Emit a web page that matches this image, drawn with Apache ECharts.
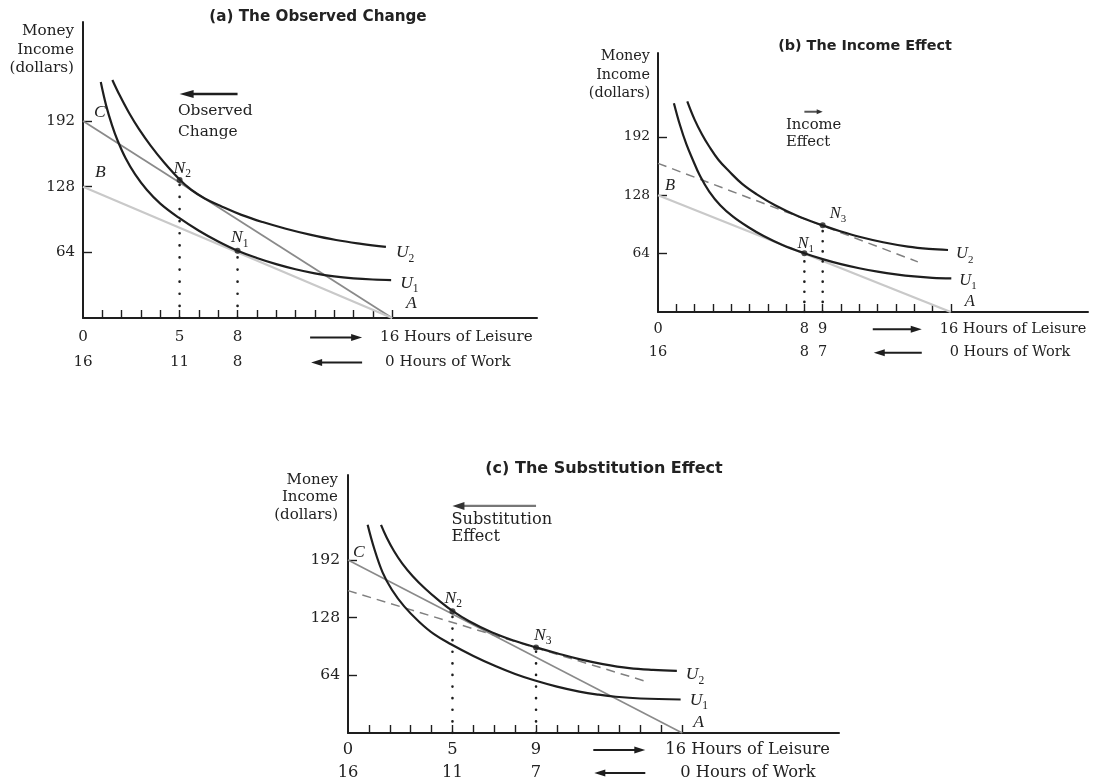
<!DOCTYPE html>
<html><head><meta charset="utf-8">
<script src="https://cdn.jsdelivr.net/npm/echarts@6/dist/echarts.min.js"></script>
<style>html,body{margin:0;padding:0;background:#fff}#c{width:1093px;height:783px}</style>
</head><body><div id="c"></div>
<script>
// ---------------- data ----------------
const panelTitles = ['(a) The Observed Change', '(b) The Income Effect', '(c) The Substitution Effect'];
const hourTicks = [1,2,3,4,5,6,7,8,9,10,11,12,13,14,15,16];
const incomeTicks = [64,128,192];
const leisureA = [0,5,8];   const workA = [16,11,8];
const leisureB = [0,8,9];   const workB = [16,8,7];
const leisureC = [0,5,9];   const workC = [16,11,7];

// panel (a)
const budgetB_a = [[0,128],[16,0]];
const budgetC_a = [[0,192],[16,0]];
const U1_a = [[0.92,230],[1.2,207],[1.5,188],[1.78,173.5],[2.2,156],[2.7,140],[3.3,125],[4,111.5],[4.94,98],[6,85],[7,74.5],[8,65.5],[9,58.5],[10,52.5],[11,47.5],[12,43.5],[13,40.5],[14,38.6],[15,37.5],[15.95,37]];
const U2_a = [[1.52,232],[1.9,217],[2.38,200],[2.9,184],[3.5,168],[4.2,151.5],[5,135],[5.6,125],[6.3,116.5],[7.2,108.5],[8.2,100.5],[9.3,93.5],[10.5,87],[11.8,81],[13.1,76],[14.4,72.3],[15.68,69.3]];
const points_a = [{name:'N2', value:[5,134.5]}, {name:'N1', value:[8,65.5]}];
const observedChange = [8,5];

// panel (b)
const budgetB_b = [[0,128],[16,0]];
const dashed_b = [[0,163],[14.2,55]];
const U1_b = [[0.87,229],[1.2,205],[1.55,184],[1.9,167],[2.3,149],[2.8,132],[3.4,117],[4.1,104.5],[4.9,93.5],[5.8,83],[6.8,73.5],[8,64.5],[9,58],[10,52.5],[11,48],[12,44.3],[13,41.3],[14,39],[15,37.5],[16.03,36.8]];
const U2_b = [[1.6,231],[2,211],[2.4,195],[2.8,181.5],[3.3,167],[3.9,154],[4.6,140.5],[5.4,129],[6.4,117],[7.6,105.5],[9,95],[10,88.3],[11,82.5],[12.3,76.5],[13.66,71.7],[14.8,69.2],[15.85,68]];
const points_b = [{name:'N1', value:[8,64.5]}, {name:'N3', value:[9,95]}];
const incomeEffect = [8,9];

// panel (c)
const budgetC_c = [[0,192],[16,0]];
const dashed_c = [[0,158],[14.3,57]];
const U1_c = [[0.94,231],[1.25,205],[1.66,178],[2.1,159],[2.69,140.5],[3.4,123.5],[4.1,110],[4.93,98.5],[6,85.5],[7.08,74],[8,65.5],[8.91,58.5],[10,51.5],[11.07,46],[12,42.5],[12.82,40.2],[14,38.3],[15.92,37.2]];
const U2_c = [[1.58,231],[1.85,217],[2.2,202],[2.6,188],[3.1,174],[3.7,160],[4.3,148],[5,135.5],[5.8,124],[6.9,111.5],[8,102],[9,95],[10,88.5],[11.07,82],[12.2,76.5],[13.46,72],[14.6,70],[15.74,69]];
const points_c = [{name:'N2', value:[5,135]}, {name:'N3', value:[9,95]}];
const substitutionEffect = [9,5];

// ---------------- layout / style ----------------
const SERIF = 'DejaVu Serif';
const ITAL = 'Liberation Serif';
const INK = '#1e1e1e';
const layout = [
  {grid:{left:83, top:22, width:454, height:296}, xMax:23.5, yMax:288.5,
   fs:15.1, yfs:15, nfs:15.2, tfs:15.2, lfs:17.5, title:{x:318, y:16.7},
   lh:25, m:7, nameGap:0, namePad:9, nameLH:18.5, dot:12,
   leisure:leisureA, work:workA,
   row:{leis:-12, work:-7, a1:-82, a2:-30},
   ann:{hours:observedChange, v:218.3, text:'Observed\nChange', dx:-1.6, dy:6.2, lh:21, fs:15.4, color:INK, head:INK, w:2.4, hl:14, hw:8}},
  {grid:{left:658, top:53, width:430, height:259}, xMax:23.5, yMax:284,
   fs:14.5, yfs:13.8, nfs:14.4, tfs:14.4, lfs:16.5, title:{x:865, y:46.7},
   lh:23.4, m:5.6, nameGap:5.5, namePad:8, nameLH:18.3, dot:10,
   leisure:leisureB, work:workB,
   row:{leis:-11, work:-1, a1:-78, a2:-29},
   ann:{hours:incomeEffect, v:219.6, text:'Income\nEffect', dx:-18.4, dy:5, lh:16.7, fs:14.8, color:'#555', head:'#333', w:2, hl:6, hw:5}},
  {grid:{left:348, top:475, width:491, height:258}, xMax:23.5, yMax:286.3,
   fs:16.3, yfs:15.5, nfs:15, tfs:16, lfs:17.5, title:{x:604, y:469.3},
   lh:23, m:5.5, nameGap:3.7, namePad:10, nameLH:17.5, dot:11.5,
   leisure:leisureC, work:workC,
   row:{leis:-17, work:-2, a1:-89, a2:-37},
   ann:{hours:substitutionEffect, v:252, text:'Substitution\nEffect', dx:-1, dy:5.5, lh:17, fs:16.2, color:'#777', head:'#333', w:2.4, hl:12, hw:8}}
];

const panelSeries = [
  {budget:[{d:budgetC_a, lab:'C', c:'#8a8a8a', w:1.8}, {d:budgetB_a, lab:'B', c:'#c9c9c9', w:2.2}], dashed:null, U1:U1_a, U2:U2_a, pts:points_a},
  {budget:[{d:budgetB_b, lab:'B', c:'#c9c9c9', w:2.2}], dashed:dashed_b, U1:U1_b, U2:U2_b, pts:points_b},
  {budget:[{d:budgetC_c, lab:'C', c:'#8a8a8a', w:1.6}], dashed:dashed_c, U1:U1_c, U2:U2_c, pts:points_c}
];

// label offsets (pixels, relative to anchor point)
const labelOffsets = [
  {C:[11,-9], B:[12,-14], A:[14,-15], U2:[10,6], U1:[9,3.5], N2:[-6,-12], N1:[-6.6,-13]},
  {B:[7,-10], A:[14,-10], U2:[8,4], U1:[8,2], N1:[-7,-10], N3:[7,-12]},
  {C:[5,-8], A:[11,-11], U2:[9,4], U1:[9,1], N2:[-8,-13], N3:[-2,-12]}
];

// ---------------- option ----------------
const xAxes = [], yAxes = [], series = [];
layout.forEach((L, i) => {
  xAxes.push({type:'value', gridIndex:i, min:0, max:L.xMax,
    axisLine:{show:true, onZero:false, lineStyle:{color:INK, width:2}},
    axisTick:{show:true, inside:true, length:8, customValues:hourTicks, lineStyle:{color:INK, width:1.4}},
    axisLabel:{show:true, customValues:L.leisure, margin:L.m, color:'#222', fontFamily:SERIF, fontSize:L.fs, lineHeight:L.lh,
      formatter:(v) => v + '\n' + L.work[L.leisure.indexOf(v)]},
    splitLine:{show:false}});
  yAxes.push({type:'value', gridIndex:i, min:0, max:L.yMax,
    name:'Money\nIncome\n(dollars)', nameLocation:'end', nameGap:L.nameGap,
    nameTextStyle:{align:'right', verticalAlign:'top', fontFamily:SERIF, fontSize:L.nfs, lineHeight:L.nameLH, color:'#222', padding:[0, L.namePad, 0, 0]},
    axisLine:{show:true, onZero:false, lineStyle:{color:INK, width:2}},
    axisTick:{show:true, inside:true, length:9, customValues:incomeTicks, lineStyle:{color:INK, width:1.4}},
    axisLabel:{show:true, customValues:incomeTicks, margin:8, color:'#222', fontFamily:SERIF, fontSize:L.yfs},
    splitLine:{show:false}});

  const P = panelSeries[i];
  P.budget.forEach(b => series.push({type:'line', name:'budget '+b.lab, xAxisIndex:i, yAxisIndex:i, data:b.d, symbol:'none', silent:true, z:2,
    lineStyle:{color:b.c, width:b.w}}));
  if (P.dashed) series.push({type:'line', name:'compensated', xAxisIndex:i, yAxisIndex:i, data:P.dashed, symbol:'none', silent:true, z:2,
    lineStyle:{color:'#808080', width:1.5, type:[9,6]}});
  ['U1','U2'].forEach(k => series.push({type:'line', name:k, xAxisIndex:i, yAxisIndex:i, data:P[k], symbol:'none',
    smooth:0.4, silent:true, z:3, lineStyle:{color:INK, width:2.2}}));
  P.pts.forEach(p => series.push({type:'line', name:'drop '+p.name, xAxisIndex:i, yAxisIndex:i,
    data:[[p.value[0],0],[p.value[0],p.value[1]]], symbol:'none', silent:true, z:2,
    lineStyle:{color:INK, width:2.6, type:[0.1, L.dot], cap:'round'}}));
  series.push({type:'scatter', name:'points', xAxisIndex:i, yAxisIndex:i, data:P.pts, symbol:'circle', symbolSize:6,
    itemStyle:{color:INK}, silent:true, z:5});
});

const option = {
  animation:false,
  backgroundColor:'#fff',
  title: layout.map((L,i) => ({text:panelTitles[i], left:L.title.x, top:L.title.y - (L.tfs+4)/2, textAlign:'center', padding:0,
    textStyle:{fontFamily:'DejaVu Sans', fontWeight:'bold', fontSize:L.tfs, lineHeight:L.tfs+4, color:'#222'}})),
  grid: layout.map(L => Object.assign({containLabel:false, outerBoundsMode:'none'}, L.grid)),
  xAxis: xAxes, yAxis: yAxes, series
};

const chart = echarts.init(document.getElementById('c'), null, {renderer:'canvas'});
chart.setOption(option);

// ---------------- annotations (positioned from data coordinates) ----------------
function arrow(x1, y, x2, color, head, w, hl, hw) {
  const dir = x2 > x1 ? 1 : -1;
  return [
    {type:'line', silent:true, z:10, shape:{x1:x1, y1:y, x2:x2 - dir*hl*0.7, y2:y}, style:{stroke:color, lineWidth:w}},
    {type:'polygon', silent:true, z:10, shape:{points:[[x2,y],[x2-dir*hl,y-hw/2],[x2-dir*hl,y+hw/2]]}, style:{fill:head}}
  ];
}
function sub(letter, idx, fs) {
  return {text: idx ? '{n|'+letter+'}{s|'+idx+'}' : '{n|'+letter+'}',
    rich:{n:{fontFamily:ITAL, fontStyle:'italic', fontSize:fs, lineHeight:fs+6, fill:'#222', verticalAlign:'middle'},
          s:{fontFamily:ITAL, fontSize:fs*0.66, lineHeight:fs*0.66, fill:'#222', verticalAlign:'bottom'}}};
}
const graphics = [];
layout.forEach((L, i) => {
  const px = (h, v) => chart.convertToPixel({gridIndex:i}, [h, v]);
  const [x16, y0] = px(16, 0);
  const r1 = y0 + L.m + L.lh/2, r2 = r1 + L.lh;
  graphics.push(...arrow(x16 + L.row.a1, r1, x16 + L.row.a2, INK, INK, 2, 11, 7));
  graphics.push(...arrow(x16 + L.row.a2, r2, x16 + L.row.a1 + 1, INK, INK, 2, 11, 7));
  graphics.push({type:'text', silent:true, x:x16 + L.row.leis, y:r1, style:{text:'16 Hours of Leisure', fontFamily:SERIF, fontSize:L.fs, fill:'#222', align:'left', verticalAlign:'middle'}});
  graphics.push({type:'text', silent:true, x:x16 + L.row.work, y:r2, style:{text:'0 Hours of Work', fontFamily:SERIF, fontSize:L.fs, fill:'#222', align:'left', verticalAlign:'middle'}});
  const A = L.ann;
  const [ax1, ay] = px(A.hours[0], A.v);
  const [ax2] = px(A.hours[1], A.v);
  graphics.push(...arrow(ax1, ay, ax2, A.color, A.head, A.w, A.hl, A.hw));
  graphics.push({type:'text', silent:true, x:Math.min(ax1, ax2) + A.dx, y:ay + A.dy,
    style:{text:A.text, fontFamily:SERIF, fontSize:A.fs, lineHeight:A.lh, fill:'#222', align:'left', verticalAlign:'top'}});
  const P = panelSeries[i], off = labelOffsets[i];
  const put = (key, letter, idx, h, v) => {
    const [x, y] = px(h, v); const o = off[key];
    graphics.push({type:'text', silent:true, z:11, x:x + o[0], y:y + o[1], style:Object.assign({align:'left', verticalAlign:'middle'}, sub(letter, idx, L.lfs))});
  };
  P.budget.forEach(b => put(b.lab, b.lab, '', b.d[0][0], b.d[0][1]));
  put('A', 'A', '', 16, 0);
  const e1 = P.U1[P.U1.length-1], e2 = P.U2[P.U2.length-1];
  put('U1', 'U', '1', e1[0], e1[1]);
  put('U2', 'U', '2', e2[0], e2[1]);
  P.pts.forEach(p => put(p.name, 'N', p.name.slice(1), p.value[0], p.value[1]));
});
chart.setOption({graphic: graphics});
</script>
</body></html>
